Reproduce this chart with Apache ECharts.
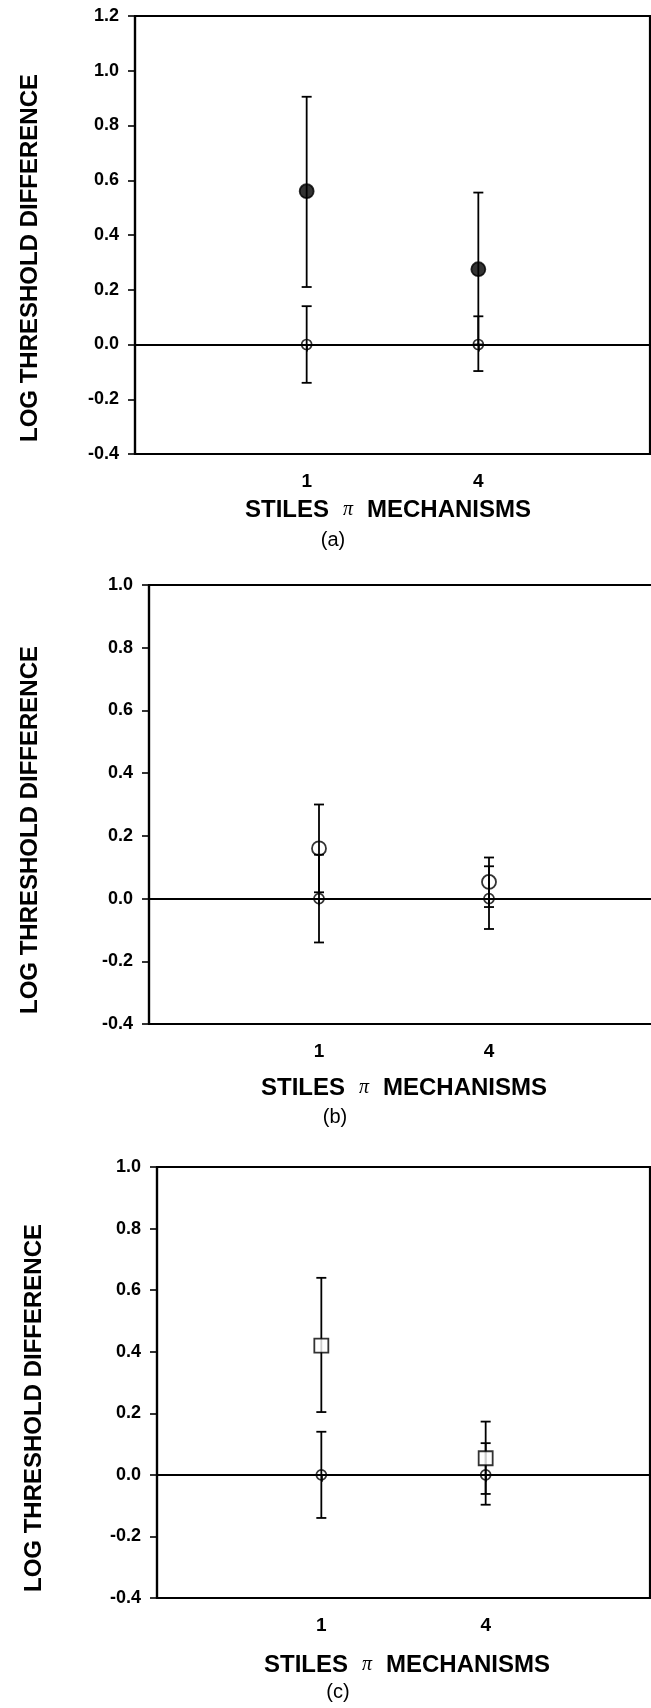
<!DOCTYPE html>
<html>
<head>
<meta charset="utf-8">
<script src="https://cdn.jsdelivr.net/npm/echarts@6/dist/echarts.min.js"></script>
<style>
  html, body { margin: 0; padding: 0; background: #fff; }
  #chart { width: 651px; height: 1708px; }
</style>
</head>
<body>
<div id="chart"></div>
<script>
// x categories (Stiles pi mechanisms)
const mechanisms = ['1', '4']

// control condition, same in every panel (open small circle)
const ctrlMean = [0, 0]
const ctrlLow = [-0.14, -0.097]
const ctrlHigh = [0.14, 0.103]

// panel (a) filled circles
const aMean = [0.56, 0.275]
const aLow = [0.21, 0.0]
const aHigh = [0.905, 0.555]

// panel (b) large open circles
const bMean = [0.16, 0.053]
const bLow = [0.02, -0.027]
const bHigh = [0.30, 0.131]

// panel (c) open squares
const cMean = [0.42, 0.054]
const cLow = [0.204, -0.062]
const cHigh = [0.64, 0.173]

const yMin = -0.4
const yMaxes = [1.2, 1.0, 1.0]
const panelLabels = ['(a)', '(b)', '(c)']
const yTitle = 'LOG THRESHOLD DIFFERENCE'

const FONT = '"Liberation Sans", Arial, Helvetica, sans-serif'

const chart = echarts.init(document.getElementById('chart'))

const grids = [
  { left: 135, top: 16, width: 515, height: 438 },
  { left: 149, top: 585, width: 510, height: 439 },
  { left: 157, top: 1167, width: 493, height: 431 }
]

// where the texts go, per panel
const yTitlePos = [[30, 258], [30, 830], [34, 1408]]
const xTitlePos = [[388, 510], [404, 1088], [407, 1665]]
const labelPos = [[333, 540], [335, 1117], [338, 1692]]

const xCats = [''].concat(mechanisms, [''])

function barData(low, high) {
  return mechanisms.map((m, i) => [i + 1, low[i], high[i]])
}
function pointData(mean) {
  return mechanisms.map((m, i) => [i + 1, mean[i]])
}

function errorBar(params, api) {
  const x = api.value(0)
  const lo = api.coord([x, api.value(1)])
  const hi = api.coord([x, api.value(2)])
  const w = 5
  const style = { stroke: '#000', lineWidth: 1.8 }
  return {
    type: 'group',
    children: [
      { type: 'line', shape: { x1: lo[0], y1: lo[1], x2: hi[0], y2: hi[1] }, style },
      { type: 'line', shape: { x1: lo[0] - w, y1: lo[1], x2: lo[0] + w, y2: lo[1] }, style },
      { type: 'line', shape: { x1: hi[0] - w, y1: hi[1], x2: hi[0] + w, y2: hi[1] }, style }
    ]
  }
}

const xAxes = []
const yAxes = []
const series = []
const graphics = []

const testSets = [
  { mean: aMean, low: aLow, high: aHigh, symbol: 'circle', size: 14, fill: '#000' },
  { mean: bMean, low: bLow, high: bHigh, symbol: 'circle', size: 14, fill: 'rgba(0,0,0,0)' },
  { mean: cMean, low: cLow, high: cHigh, symbol: 'rect', size: 14, fill: '#fff' }
]

grids.forEach((g, i) => {
  Object.assign(g, {
    show: true, borderColor: '#000', borderWidth: 2.2, backgroundColor: 'transparent',
    containLabel: false, outerBoundsMode: 'none'
  })

  xAxes.push({
    gridIndex: i,
    type: 'category',
    data: xCats,
    boundaryGap: false,
    axisLine: { lineStyle: { color: '#000', width: 2.2 } },
    axisTick: { show: true, length: 7, lineStyle: { color: '#000', width: 1.6 } },
    axisLabel: { color: '#000', fontFamily: FONT, fontWeight: 'bold', fontSize: 19, margin: 18, interval: 0 },
    splitLine: { show: false }
  })

  yAxes.push({
    gridIndex: i,
    type: 'value',
    min: yMin,
    max: yMaxes[i],
    interval: 0.2,
    axisLine: { show: true, lineStyle: { color: '#000', width: 2.2 } },
    axisTick: { show: true, length: 7, lineStyle: { color: '#000', width: 1.6 } },
    axisLabel: {
      color: '#000', fontFamily: FONT, fontWeight: 'bold', fontSize: 18, margin: 16,
      formatter: v => v.toFixed(1)
    },
    splitLine: { show: false }
  })

  const t = testSets[i]

  // control error bars + zero line
  series.push({
    type: 'custom',
    xAxisIndex: i, yAxisIndex: i,
    renderItem: errorBar,
    data: barData(ctrlLow, ctrlHigh),
    z: 2,
    markLine: {
      silent: true,
      symbol: 'none',
      label: { show: false },
      lineStyle: { color: '#000', width: 2, type: 'solid' },
      data: [{ yAxis: 0 }]
    }
  })
  // test condition error bars
  series.push({
    type: 'custom',
    xAxisIndex: i, yAxisIndex: i,
    renderItem: errorBar,
    data: barData(t.low, t.high),
    z: 2
  })
  // control points
  series.push({
    type: 'scatter',
    xAxisIndex: i, yAxisIndex: i,
    symbol: 'circle',
    symbolSize: 10,
    itemStyle: { color: 'rgba(0,0,0,0)', borderColor: '#000', borderWidth: 1.7 },
    data: pointData(ctrlMean),
    z: 3
  })
  // test points
  series.push({
    type: 'scatter',
    xAxisIndex: i, yAxisIndex: i,
    symbol: t.symbol,
    symbolSize: t.size,
    itemStyle: { color: t.fill, borderColor: '#000', borderWidth: 1.8 },
    data: pointData(t.mean),
    z: 4
  })

  graphics.push({
    type: 'text',
    x: yTitlePos[i][0], y: yTitlePos[i][1],
    rotation: Math.PI / 2,
    style: {
      text: yTitle, fill: '#000',
      font: 'bold 24px ' + FONT,
      textAlign: 'center', textVerticalAlign: 'middle'
    }
  })
  graphics.push({
    type: 'text',
    x: xTitlePos[i][0], y: xTitlePos[i][1],
    style: {
      text: '{a|STILES}{p|π}{a|MECHANISMS}',
      fill: '#000',
      textAlign: 'center', textVerticalAlign: 'middle',
      rich: {
        a: { font: 'bold 24px ' + FONT, fill: '#000' },
        p: { font: 'italic 20px "Liberation Serif", "DejaVu Serif", serif', fill: '#000', padding: [0, 14, 0, 14] }
      }
    }
  })
  graphics.push({
    type: 'text',
    x: labelPos[i][0], y: labelPos[i][1],
    style: {
      text: panelLabels[i], fill: '#000',
      font: '20px ' + FONT,
      textAlign: 'center', textVerticalAlign: 'middle'
    }
  })
})

chart.setOption({
  animation: false,
  backgroundColor: '#fff',
  grid: grids,
  xAxis: xAxes,
  yAxis: yAxes,
  series: series,
  graphic: graphics
})
</script>
</body>
</html>
